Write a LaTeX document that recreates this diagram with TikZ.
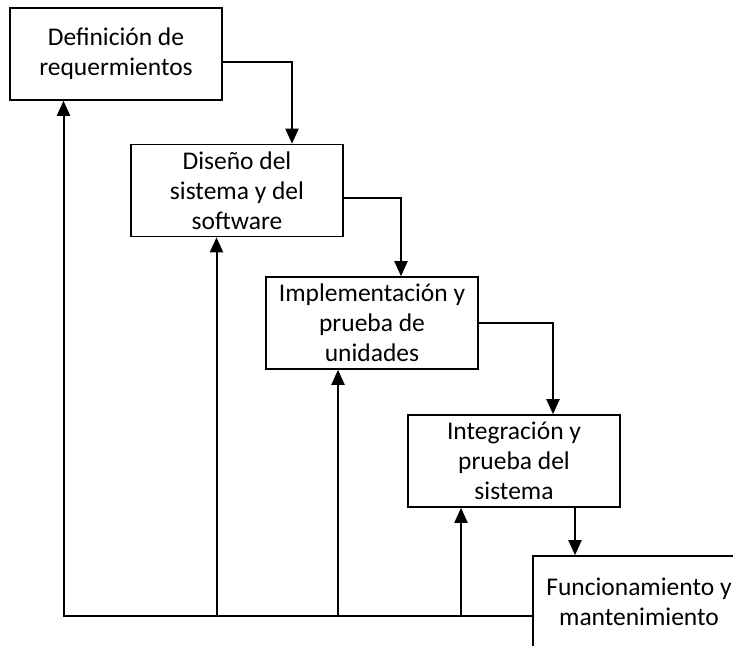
\documentclass[tikz,border=0pt]{standalone}
\usepackage{fontspec}
\setmainfont{Carlito}
\usetikzlibrary{arrows.meta, positioning, calc}

\begin{document}
\begin{tikzpicture}[
    x=1pt, y=-1pt,
    >={Triangle[length=15pt,width=13pt]},
    % boxes of the cascade
    block/.style={rectangle, draw, line width=1.6pt, align=center,
        minimum width=212pt, minimum height=92pt, inner sep=0pt,
        font=\fontsize{25.5}{30}\selectfont},
    flow/.style={->, line width=2pt}
]
    \clip (0,0) rectangle (733,645);

    % --- CASCADE ---
    \node (req) [block] at (116,54) {Definición de\\requermientos};
    \node (dis) [block] at (237,190.5) {Diseño del\\sistema y del\\software};
    \node (impl) [block] at (372,323) {Implementación y\\prueba de\\unidades};
    \node (integ) [block] at (514,461) {Integración y\\prueba del\\sistema};
    \node (fun) [block] at (639,602) {Funcionamiento y\\mantenimiento};

    % --- EDGES DOWN ---
    \draw[flow] ([yshift=-8pt]req.east) -| ([xshift=55pt]dis.north);
    \draw[flow] ([yshift=-7pt]dis.east) -| ([xshift=29pt]impl.north);
    \draw[flow] (impl.east) -| ([xshift=39pt]integ.north);
    \draw[flow] ([xshift=61pt]integ.south) -- ([xshift=-64pt]fun.north);

    % --- FEEDBACK ---
    \coordinate (loop) at ([yshift=-14pt]fun.west);
    \coordinate (r1) at ([xshift=-52.5pt]req.south);
    \coordinate (r2) at ([xshift=-20.5pt]dis.south);
    \coordinate (r3) at ([xshift=-34pt]impl.south);
    \coordinate (r4) at ([xshift=-53pt]integ.south);
    \draw[flow] (loop) -| (r1);
    \draw[flow] (r2 |- loop) -- (r2);
    \draw[flow] (r3 |- loop) -- (r3);
    \draw[flow] (r4 |- loop) -- (r4);

\end{tikzpicture}
\end{document}
